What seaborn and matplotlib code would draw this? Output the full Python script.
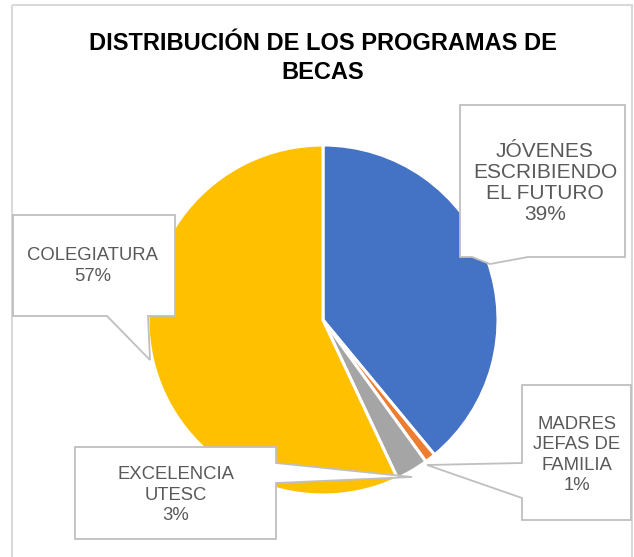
import matplotlib
matplotlib.use("Agg")
import matplotlib.pyplot as plt
from matplotlib.patches import Polygon, Rectangle
import seaborn as sns

# Data
programas = ["JÓVENES\nESCRIBIENDO\nEL FUTURO", "MADRES\nJEFAS DE\nFAMILIA",
             "EXCELENCIA\nUTESC", "COLEGIATURA"]
porcentajes = [39, 1, 3, 57]
colores = ["#4472C4", "#ED7D31", "#A5A5A5", "#FFC000"]

sns.set_theme(style="white")
plt.rcParams['font.family'] = ['Liberation Sans', 'DejaVu Sans']

W, H = 634, 557
fig = plt.figure(figsize=(W / 100, H / 100), dpi=100)
fig.patch.set_facecolor("white")

# pie centred at (323, 320) px, radius 175 px
cx, cy, r = 323, 320, 175
ax = fig.add_axes([(cx - r) / W, (H - cy - r) / H, 2 * r / W, 2 * r / H])
ax.pie(porcentajes, colors=colores, startangle=90, counterclock=False,
       wedgeprops=dict(edgecolor="white", linewidth=2.2))
ax.set_xlim(-1, 1)
ax.set_ylim(-1, 1)
ax.axis("off")

# overlay in pixel coordinates for border, title and callouts
ov = fig.add_axes([0, 0, 1, 1], facecolor="none")
ov.set_xlim(0, W)
ov.set_ylim(H, 0)
ov.axis("off")

ov.add_patch(Rectangle((12, 5), 620, 560, fill=False, edgecolor="#D9D9D9", lw=1.5))

ov.text(323, 58, "DISTRIBUCIÓN DE LOS PROGRAMAS DE\nBECAS", ha="center", va="center",
        fontsize=17, fontweight="bold", color="#000000", linespacing=1.36)

# callout shapes (box + pointer), text centres and sizes
callouts = [
    [(460, 105), (625, 105), (625, 257), (528, 257), (490, 264), (472, 257), (460, 257)],
    [(522, 385), (631, 385), (631, 520), (522, 520), (522, 498), (427, 465), (522, 463)],
    [(75, 447), (276, 447), (276, 463), (412, 477), (276, 483), (276, 539), (75, 539)],
    [(13, 215), (175, 215), (175, 316), (148, 316), (150, 360), (107, 316), (13, 316)],
]
centros = [(545, 183), (577, 455), (176, 495), (93, 266)]
tamanos = [15, 13.3, 13.3, 13.3]
interlineado = [1.14, 1.27, 1.27, 1.32]

for nombre, pct, poly, (tx, ty), fs, ls in zip(programas, porcentajes, callouts,
                                               centros, tamanos, interlineado):
    ov.add_patch(Polygon(poly, closed=True, facecolor="white", edgecolor="#BFBFBF",
                         lw=1.3, zorder=3))
    ov.text(tx, ty, f"{nombre}\n{pct}%", ha="center", va="center", fontsize=fs,
            color="#595959", linespacing=ls, zorder=4)

fig.savefig("out.png", dpi=100)
